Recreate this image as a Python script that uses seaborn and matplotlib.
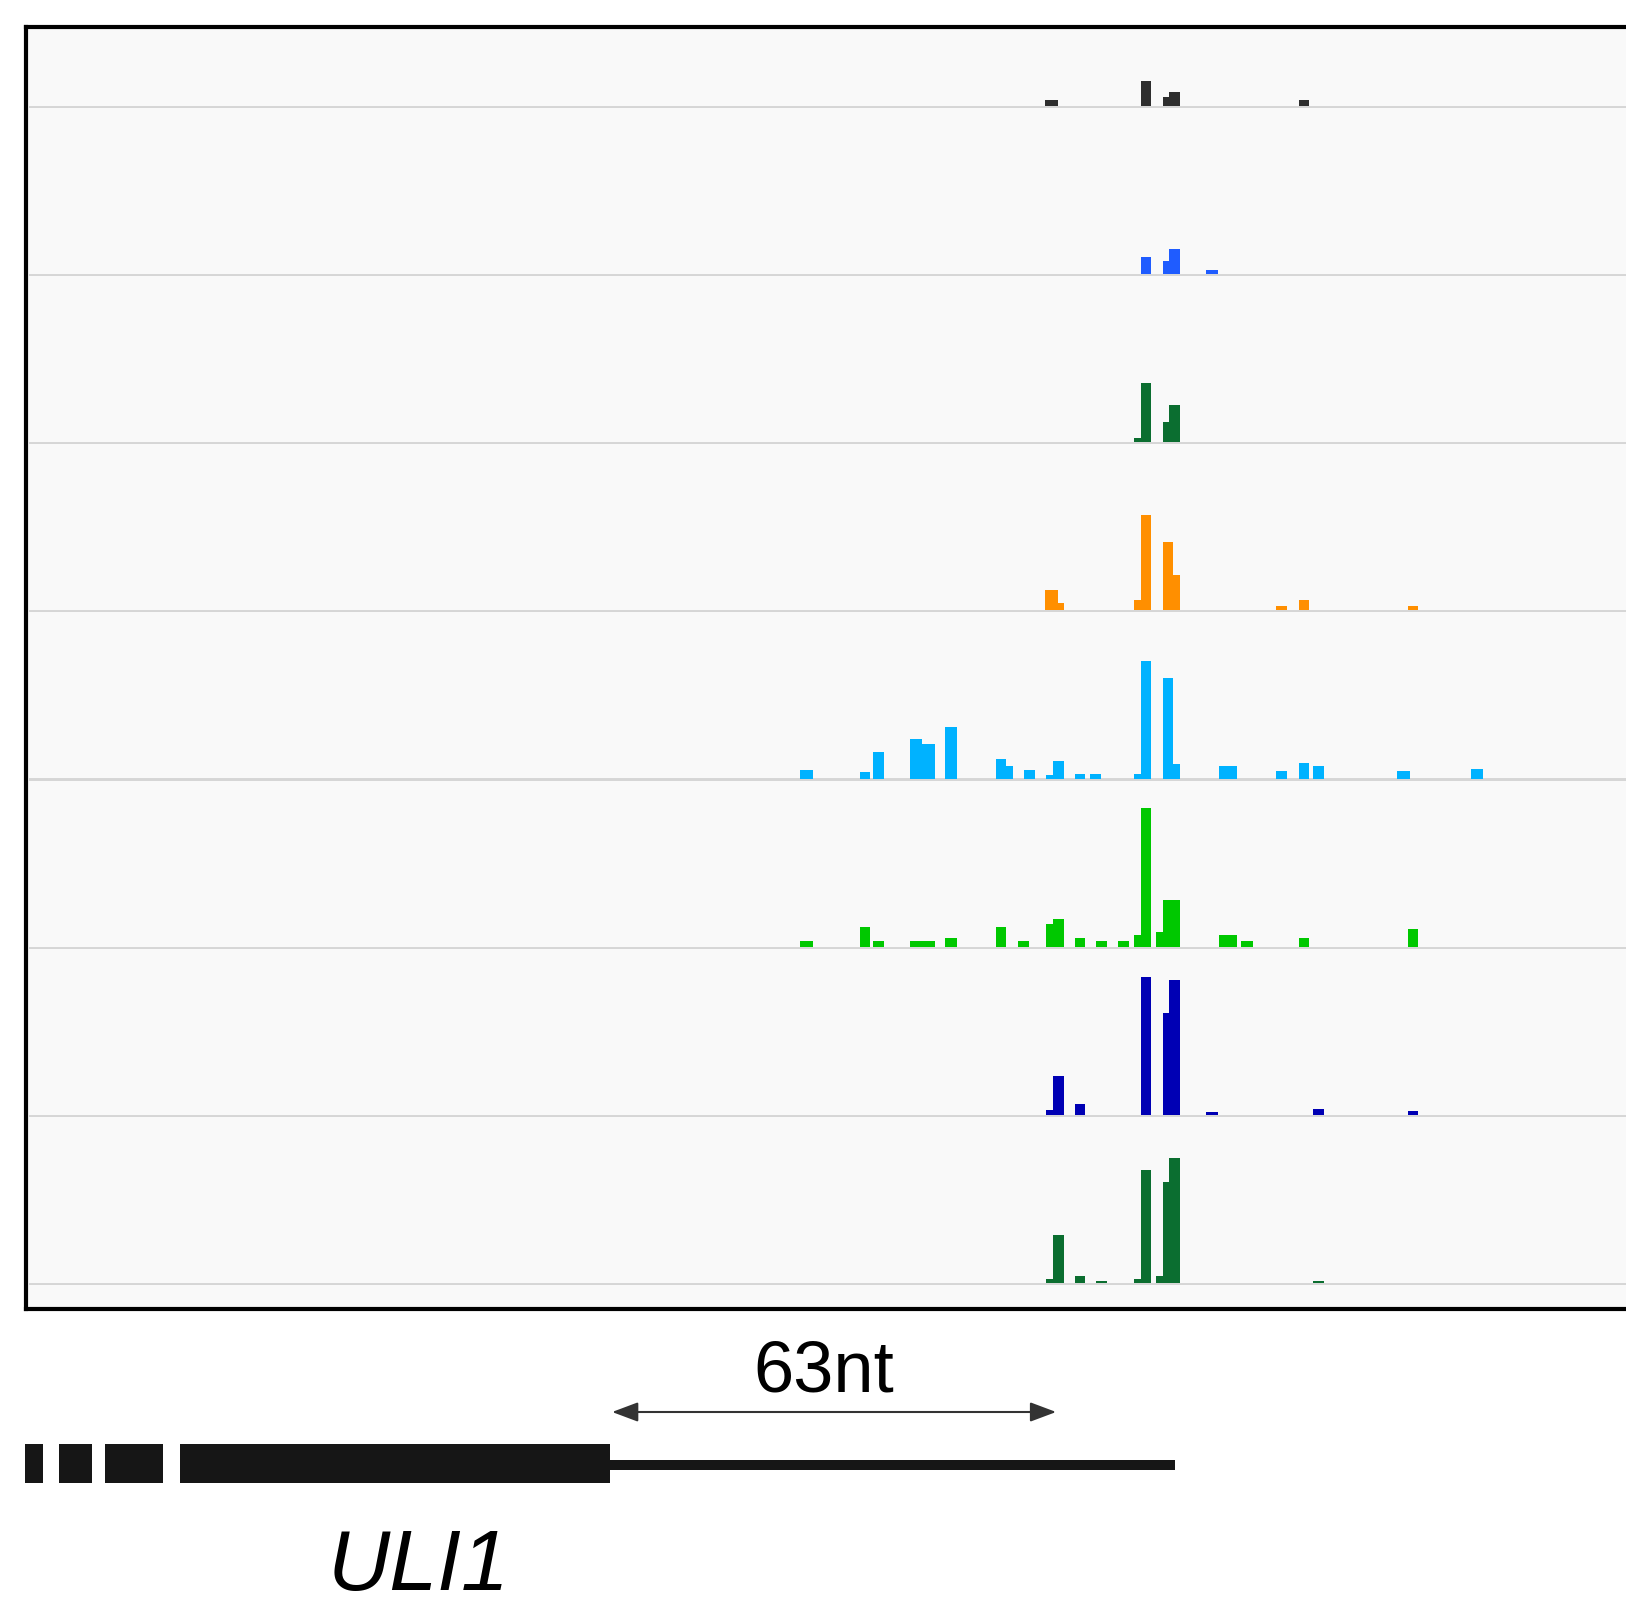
import numpy as np
import matplotlib
matplotlib.use("Agg")
import matplotlib.pyplot as plt
import seaborn as sns

# ---- data (positions in nt, signal in arbitrary units) ----
t1_start = [144.7, 158.4, 161.4, 162.3, 180.7]
t1_end = [146.5, 159.8, 162.3, 163.9, 182.2]
t1_value = [6, 25, 9, 14, 6]

t2_start = [158.4, 161.4, 162.3, 167.5]
t2_end = [159.8, 162.3, 163.9, 169.3]
t2_value = [17.5, 13, 25.5, 4]

t3_start = [157.3, 158.4, 161.4, 162.3]
t3_end = [158.4, 159.8, 162.3, 163.9]
t3_value = [4.5, 59, 20.5, 37]

t4_start = [144.7, 146.5, 157.3, 158.4, 161.4, 162.9, 177.5, 180.7, 196.2]
t4_end = [146.5, 147.4, 158.4, 159.8, 162.9, 163.9, 179.1, 182.2, 197.7]
t4_value = [20.7, 7, 10, 95.7, 68, 35.7, 4.6, 10, 4.6]

t5_start = [110.0, 118.5, 120.3, 125.6, 127.2, 130.5, 137.8, 139.2, 141.7, 144.8,
            145.9, 149.0, 151.1, 157.3, 158.4, 161.4, 162.9, 169.4, 170.7, 177.5,
            180.7, 182.7, 194.7, 205.2]
t5_end = [111.8, 119.9, 121.9, 127.2, 129.1, 132.2, 139.2, 140.2, 143.3, 145.9,
          147.4, 150.4, 152.6, 158.4, 159.8, 162.9, 163.9, 170.7, 172.0, 179.1,
          182.2, 184.3, 196.5, 206.8]
t5_value = [9, 6.7, 26.7, 40, 34.7, 51.3, 20, 12.3, 9, 4,
            17.3, 4.7, 4.7, 4.7, 117.3, 100.7, 15, 12.3, 12.3, 7.3,
            15.7, 12.4, 7.4, 10]

t6_start = [110.0, 118.5, 120.3, 125.6, 127.2, 130.5, 137.8, 140.9, 144.8, 145.9,
            149.0, 152.0, 155.1, 157.3, 158.4, 160.5, 161.4, 169.4, 172.5, 180.7,
            196.2]
t6_end = [111.8, 119.9, 121.9, 127.2, 129.1, 132.2, 139.2, 142.5, 145.9, 147.4,
          150.4, 153.5, 156.7, 158.4, 159.8, 161.4, 163.9, 172.0, 174.2, 182.2,
          197.7]
t6_value = [6.3, 20, 6.3, 6.3, 6.3, 8.7, 20, 6.3, 22.7, 27.8,
            8.7, 6.3, 6.3, 12, 139, 15.3, 47.3, 11.7, 6.3, 8.7,
            18]

t7_start = [144.8, 145.9, 149.0, 158.4, 161.4, 162.3, 167.5, 182.7, 196.2]
t7_end = [145.9, 147.4, 150.4, 159.8, 162.3, 163.9, 169.3, 184.3, 197.7]
t7_value = [5.3, 38.7, 11, 137.7, 102, 135.3, 2.7, 6, 4]

t8_start = [144.8, 145.9, 149.0, 152.0, 157.3, 158.4, 160.5, 161.4, 162.3, 182.7]
t8_end = [145.9, 147.4, 150.4, 153.5, 158.4, 159.8, 161.4, 162.3, 163.9, 184.3]
t8_value = [4, 48.3, 7.3, 2.3, 4.3, 112.7, 7.3, 100.7, 125, 2.3]

track_colors = ["#2e2e2e", "#1f5cff", "#0b6e30", "#ff8f00",
                "#00b2ff", "#00c800", "#0000b4", "#0b6e30"]

# gene model (nt)
exon_start = [-0.3, 4.8, 11.3, 22.0]
exon_end = [2.6, 9.5, 19.6, 83.0]
utr_start, utr_end = 83.0, 163.1
scale_start, scale_len = 83.3, 63
gene_name = "ULI1"

tracks = [
    (t1_start, t1_end, t1_value),
    (t2_start, t2_end, t2_value),
    (t3_start, t3_end, t3_value),
    (t4_start, t4_end, t4_value),
    (t5_start, t5_end, t5_value),
    (t6_start, t6_end, t6_value),
    (t7_start, t7_end, t7_value),
    (t8_start, t8_end, t8_value),
]

# ---- layout (pixels) ----
W, H = 1626, 1607
PX_PER_NT = 7.048
X_LEFT, X_RIGHT = 25.0, 1640.0
XLIM = (0, (X_RIGHT - X_LEFT) / PX_PER_NT)
PANEL_TOP, PANEL_BOTTOM = 26.5, 1309.0
FIRST_BASELINE, TRACK_STEP = 107.5, 168.2

sns.set_style("white")
plt.rcParams["font.family"] = ["Liberation Sans", "DejaVu Sans"]

fig = plt.figure(figsize=(W / 100, H / 100), dpi=100)
fig.patch.set_facecolor("white")


def px_rect(left, top, right, bottom):
    return [left / W, 1 - bottom / H, (right - left) / W, (bottom - top) / H]


# panel frame
frame = fig.add_axes(px_rect(X_LEFT + 0.5, PANEL_TOP, X_RIGHT, PANEL_BOTTOM))
frame.set_facecolor("#f9f9f9")
frame.set_xticks([])
frame.set_yticks([])
for sp in frame.spines.values():
    sp.set_linewidth(3.0)
    sp.set_color("black")


def draw_track(ax, starts, ends, values, color):
    starts = np.asarray(starts, dtype=float)
    ends = np.asarray(ends, dtype=float)
    edges = np.unique(np.concatenate([starts, ends])).tolist()
    mids = (starts + ends) / 2
    sns.histplot(x=mids, weights=np.asarray(values, dtype=float), bins=edges,
                 color=color, alpha=1, linewidth=0, ax=ax, legend=False)


for i, (starts, ends, values) in enumerate(tracks):
    b = FIRST_BASELINE + TRACK_STEP * i
    ax = fig.add_axes(px_rect(X_LEFT, b + 0.3 - 168, X_RIGHT, b + 0.3))
    ax.patch.set_alpha(0)
    ax.axhline(-1.8, xmin=3.5 / (X_RIGHT - X_LEFT), color="#d6d6d6", lw=2.8,
               solid_capstyle="butt", zorder=0)
    draw_track(ax, starts, ends, values, track_colors[i])
    ax.set_xlim(*XLIM)
    ax.set_ylim(-2, 166)
    ax.set_axis_off()

# gene model + scale
gene_top = 1307
gax = fig.add_axes(px_rect(X_LEFT, gene_top, X_RIGHT, H))
gax.set_xlim(*XLIM)
gax.set_ylim(H - gene_top, 0)
gax.set_axis_off()

gax.broken_barh([(s, e - s) for s, e in zip(exon_start, exon_end)],
                (1444 - gene_top, 39), facecolor="#161616", edgecolor="none")
gax.plot([utr_start, utr_end], [1465 - gene_top] * 2, color="#161616",
         lw=7.2, solid_capstyle="butt")

arrow_y = 1412 - gene_top
gax.annotate("", xy=(scale_start, arrow_y), xytext=(scale_start + scale_len, arrow_y),
             arrowprops=dict(arrowstyle="<|-|>,head_length=0.8,head_width=0.3",
                             color="#333333", lw=1.5, mutation_scale=20,
                             shrinkA=0, shrinkB=0))
gax.text(113.4, 1392 - gene_top, f"{scale_len}nt", ha="center", va="baseline",
         fontsize=52, color="black")
gax.text(55.9, 1590 - gene_top, gene_name, ha="center", va="baseline",
         fontsize=62, style="italic", color="black")

fig.savefig("out.png", dpi=100, facecolor="white")
